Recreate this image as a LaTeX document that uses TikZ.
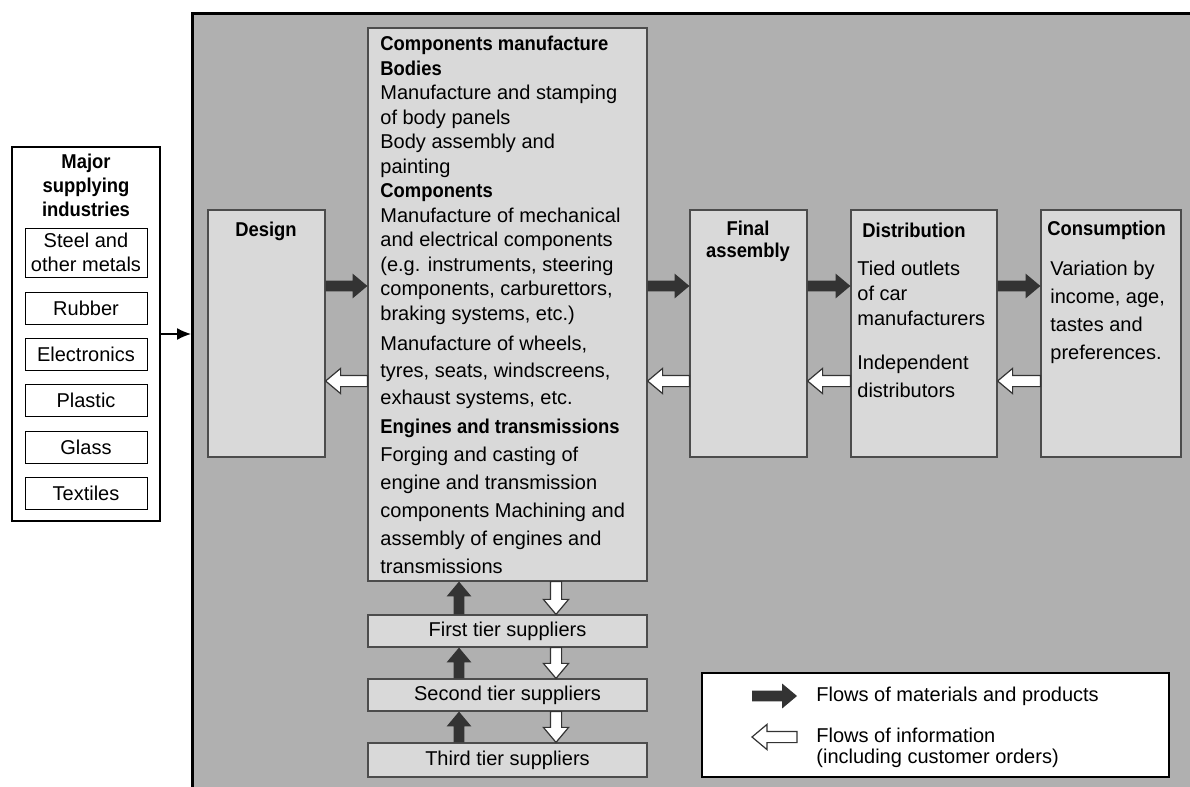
\documentclass[tikz,border=0pt]{standalone}
\usepackage{fontspec}
\setmainfont{Liberation Sans}[BoldFeatures={FakeStretch=0.92}]
\usetikzlibrary{calc,shapes.arrows,arrows.meta}
\definecolor{framegray}{gray}{0.69}
\definecolor{boxgray}{gray}{0.85}
\definecolor{linegray}{gray}{0.3}
\definecolor{arrowdark}{gray}{0.2}
\tikzset{
  stage/.style={draw=linegray, fill=boxgray, line width=0.6pt, inner sep=0pt},
  supply/.style={draw=black, fill=white, line width=0.5pt, minimum width=61pt, minimum height=16pt, align=center, inner sep=0pt},
  tier/.style={stage, minimum width=139.5pt, minimum height=16pt},
  txt/.style={anchor=north west, align=left, inner sep=0pt},
  flowarrow/.style={to path={let \p1=(\tikztostart), \p2=(\tikztotarget),
    \n1={veclen(\x2-\x1,\y2-\y1)}, \n2={atan2(\y2-\y1,\x2-\x1)} in
    node[single arrow, single arrow head extend=3.5pt, single arrow tip angle=80,
      inner xsep=0pt, inner ysep=2.5pt, outer sep=0pt, minimum height=\n1,
      rotate=\n2, anchor=tail, #1] at (\p1) {}}},
  matflow/.style={flowarrow={fill=arrowdark, draw=none}},
  infoflow/.style={flowarrow={fill=white, draw=arrowdark, line width=0.6pt}},
}
\begin{document}
\begin{tikzpicture}[x=0.5pt,y=-0.5pt]
\useasboundingbox (0,0) rectangle (1190,787);
\node[draw=black, fill=framegray, line width=1.4pt, inner sep=0pt, anchor=north west,
  minimum width=504.5pt, minimum height=394pt] (frame) at (191,12) {};

\node[draw=black, fill=white, line width=1pt, minimum width=74pt, minimum height=187pt] (industries) at (86,334) {};
\node[align=center, font=\bfseries\fontsize{10pt}{12pt}\selectfont] (majortitle) at (86,185) {Major\\supplying\\industries};
\node[supply, minimum height=24.5pt, font=\fontsize{10pt}{12pt}\selectfont] (steel) at (86,252.5) {Steel and\\other metals};
\node[supply] (rubber) at (86,308) {Rubber};
\node[supply] (electronics) at (86,354) {Electronics};
\node[supply] (plastic) at (86,400) {Plastic};
\node[supply] (glass) at (86,447) {Glass};
\node[supply] (textiles) at (86,493) {Textiles};
\path[-{Latex[length=7pt,width=6pt]}, line width=0.7pt] (industries.east) edge (industries.east -| frame.west);

\node[stage, minimum width=58.5pt, minimum height=123.5pt] (design) at (266.5,333.5) {};
\node[font=\bfseries] (designtitle) at (266,231) {Design};

\node[stage, minimum width=139.5pt, minimum height=276.5pt] (comp) at (507.5,304.5) {};
\node[txt, font=\fontsize{10pt}{12.25pt}\selectfont] (comptext) at (380,36) {%
\textbf{Components manufacture}\\
\textbf{Bodies}\\
Manufacture and stamping\\
of body panels\\
Body assembly and\\
painting\\
\textbf{Components}\\
Manufacture of mechanical\\
and electrical components\\
(e.g. instruments, steering\\
components, carburettors,\\
braking systems, etc.)\\[2.75pt]
Manufacture of wheels,\\[1.25pt]
tyres, seats, windscreens,\\[1.25pt]
exhaust systems, etc.\\[2.25pt]
\textbf{Engines and transmissions}\\[1.75pt]
Forging and casting of\\[1.75pt]
engine and transmission\\[1.75pt]
components Machining and\\[1.75pt]
assembly of engines and\\[1.75pt]
transmissions};

\node[stage, minimum width=58.5pt, minimum height=123.5pt] (final) at (748.5,333.5) {};
\node[align=center, font=\bfseries\fontsize{10pt}{11pt}\selectfont] (finaltitle) at (748,241) {Final\\assembly};

\node[stage, minimum width=73pt, minimum height=123.5pt] (distribution) at (924,333.5) {};
\node[anchor=west, inner sep=0pt, font=\bfseries] (distitle) at (862,230) {Distribution};
\node[txt, font=\fontsize{10pt}{12.5pt}\selectfont] (tied) at (857,261) {Tied outlets\\of car\\manufacturers};
\node[txt, font=\fontsize{10pt}{14pt}\selectfont] (independent) at (857,355) {Independent\\distributors};

\node[stage, minimum width=70pt, minimum height=123.5pt] (consumption) at (1111,333.5) {};
\node[anchor=west, inner sep=0pt, font=\bfseries] (constitle) at (1047,230) {Consumption};
\node[txt, font=\fontsize{10pt}{14pt}\selectfont] (variation) at (1050,261) {Variation by\\income, age,\\tastes and\\preferences.};

\node[tier] (first) at (507.5,631) {First tier suppliers};
\node[tier] (second) at (507.5,695) {Second tier suppliers};
\node[tier, minimum height=17pt] (third) at (507.5,760) {Third tier suppliers};

\coordinate (matrow) at (0,286);
\coordinate (inforow) at (0,381);
\coordinate (upcol) at (459,0);
\coordinate (downcol) at (556,0);

\path (design.east |- matrow) edge[matflow] (comp.west |- matrow)
(comp.east |- matrow) edge[matflow] (final.west |- matrow)
(final.east |- matrow) edge[matflow] (distribution.west |- matrow)
(distribution.east |- matrow) edge[matflow] (consumption.west |- matrow);
\path (consumption.west |- inforow) edge[infoflow] (distribution.east |- inforow)
(distribution.west |- inforow) edge[infoflow] (final.east |- inforow)
(final.west |- inforow) edge[infoflow] (comp.east |- inforow)
(comp.west |- inforow) edge[infoflow] (design.east |- inforow);

\path (first.north -| upcol) edge[matflow] (comp.south -| upcol)
(second.north -| upcol) edge[matflow] (first.south -| upcol)
(third.north -| upcol) edge[matflow] (second.south -| upcol);
\path (comp.south -| downcol) edge[infoflow] (first.north -| downcol)
(first.south -| downcol) edge[infoflow] (second.north -| downcol)
(second.south -| downcol) edge[infoflow] (third.north -| downcol);

\node[draw=black, fill=white, line width=0.6pt, minimum width=233.5pt, minimum height=52pt] (legend) at (935.5,725) {};
\coordinate (legmat1) at (752,696);
\coordinate (legmat2) at (797,696);
\coordinate (leginfo1) at (797,737);
\coordinate (leginfo2) at (752,737);
\path (legmat1) edge[matflow] (legmat2);
\path (leginfo1) edge[infoflow] (leginfo2);
\node[anchor=west, inner sep=0pt] (legmattext) at (816,696) {Flows of materials and products};
\node[anchor=west, align=left, inner sep=0pt, font=\fontsize{10pt}{10.5pt}\selectfont] (leginfotext) at (816,747.5) {Flows of information\\(including customer orders)};
\end{tikzpicture}
\end{document}
